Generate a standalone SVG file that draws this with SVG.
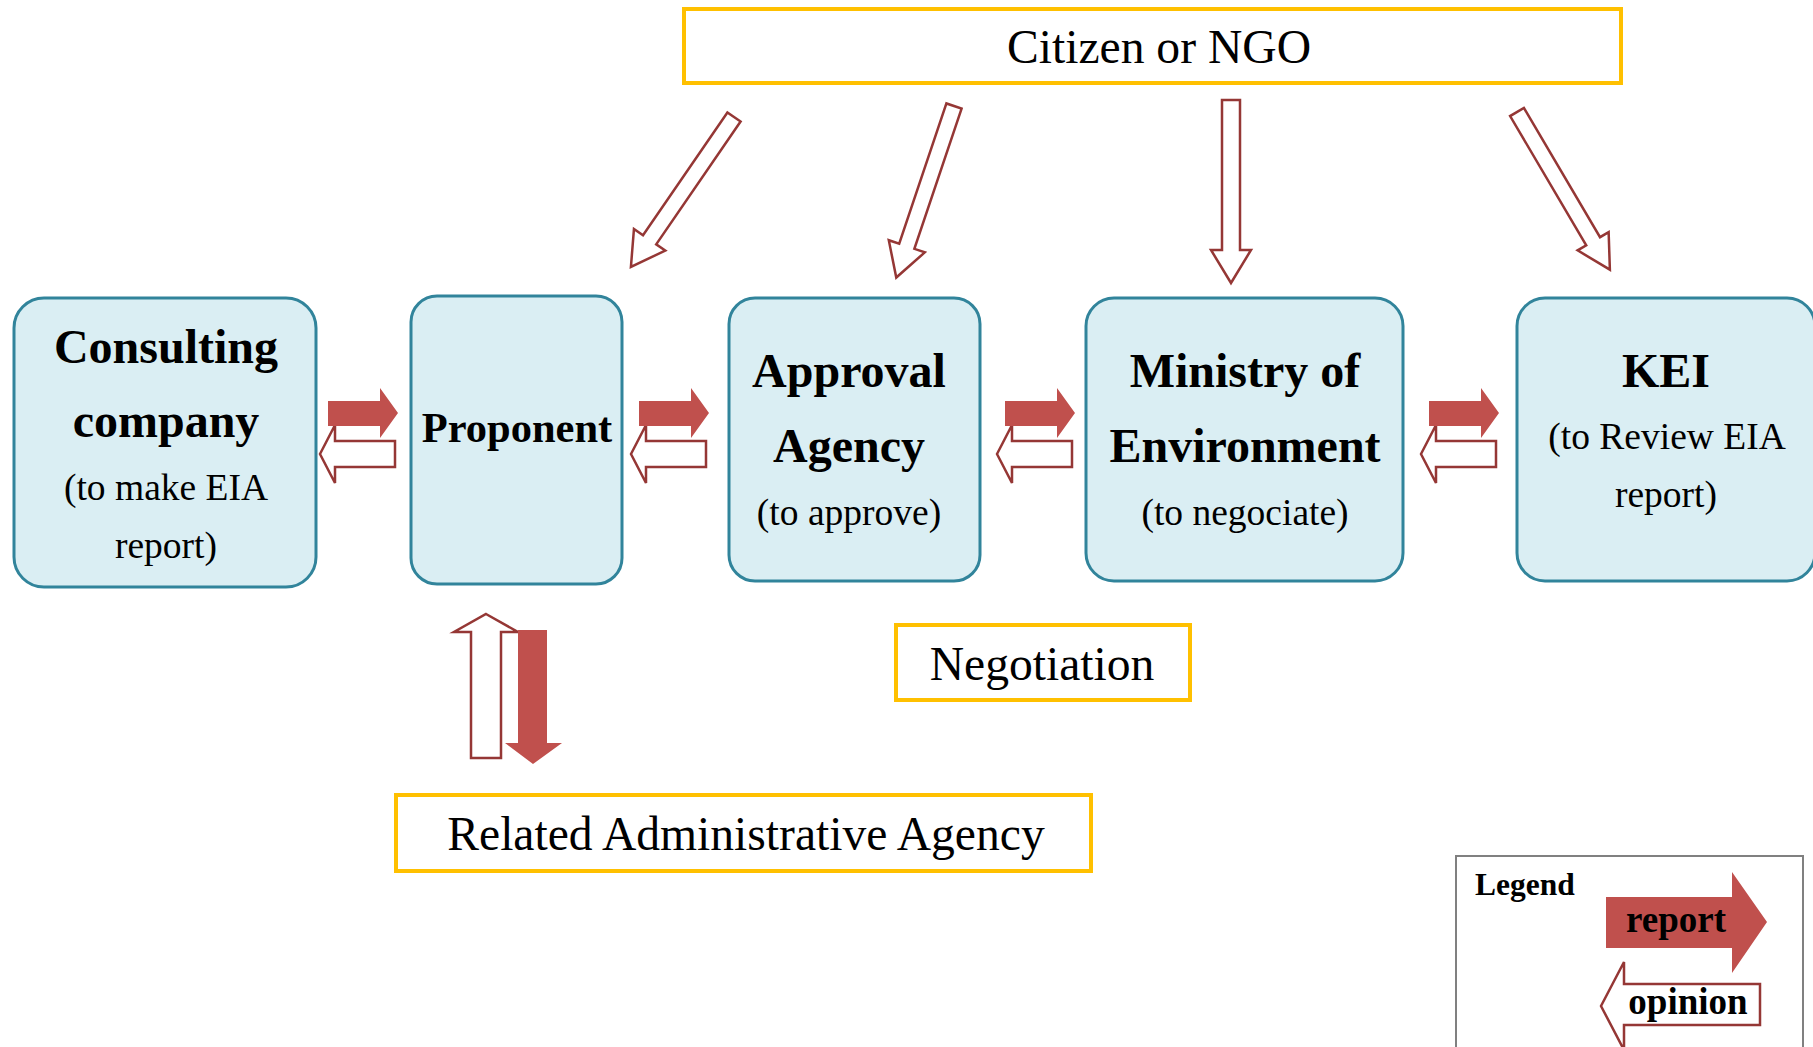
<svg xmlns="http://www.w3.org/2000/svg" width="1813" height="1047" viewBox="0 0 1813 1047">
  <style>
    .box { fill: #DAEEF3; stroke: #31849B; stroke-width: 3; }
    .ybox { fill: #FFFFFF; stroke: #FFC000; stroke-width: 4; }
    .title { font-family: "Liberation Serif", "Times New Roman", serif; font-weight: bold; font-size: 48px; fill: #000; text-anchor: middle; }
    .sub { font-family: "Liberation Serif", "Times New Roman", serif; font-size: 37.5px; fill: #000; text-anchor: middle; }
    .label { font-family: "Liberation Serif", "Times New Roman", serif; font-size: 47.6px; fill: #000; text-anchor: middle; }
    .report { fill: #C0504D; stroke: none; }
    .opinion { fill: #FFFFFF; stroke: #953735; stroke-width: 2.5; stroke-linejoin: miter; }
    .leg { font-family: "Liberation Serif", "Times New Roman", serif; font-weight: bold; fill: #000; }
  </style>
  <rect width="1813" height="1047" fill="#FFFFFF"/>

  <!-- connectors -->
  <g id="connectors">
    <!-- Citizen or NGO to the agencies (hollow opinion arrows, drawn along +x then rotated) -->
    <polygon class="opinion" points="0,-8 149,-8 149,-19 182,0 149,19 149,8 0,8" transform="translate(734,117) rotate(124.5)"/>
    <polygon class="opinion" points="0,-8 148,-8 148,-19 181,0 148,19 148,8 0,8" transform="translate(954,106) rotate(108.6)"/>
    <polygon class="opinion" points="1222,100 1240,100 1240,250 1251,250 1231,283 1211,250 1222,250"/>
    <polygon class="opinion" points="0,-8 150,-8 150,-18 183,0 150,18 150,8 0,8" transform="translate(1517,112) rotate(59.5)"/>

    <!-- Consulting company <-> Proponent -->
    <polygon class="opinion" points="320,454 335,425 335,441 395,441 395,467 335,467 335,483"/>
    <polygon class="report" points="328,401 380,401 380,388 398,413 380,438 380,426 328,426"/>
    <!-- Proponent <-> Approval Agency -->
    <polygon class="opinion" points="631,454 646,425 646,441 706,441 706,467 646,467 646,483"/>
    <polygon class="report" points="639,401 691,401 691,388 709,413 691,438 691,426 639,426"/>
    <!-- Approval Agency <-> Ministry of Environment -->
    <polygon class="opinion" points="997,454 1012,425 1012,441 1072,441 1072,467 1012,467 1012,483"/>
    <polygon class="report" points="1005,401 1057,401 1057,388 1075,413 1057,438 1057,426 1005,426"/>
    <!-- Ministry of Environment <-> KEI -->
    <polygon class="opinion" points="1421,454 1436,425 1436,441 1496,441 1496,467 1436,467 1436,483"/>
    <polygon class="report" points="1429,401 1481,401 1481,388 1499,413 1481,438 1481,426 1429,426"/>

    <!-- Proponent <-> Related Administrative Agency -->
    <polygon class="opinion" points="486,614 518,632 501,632 501,758 471,758 471,632 454,632"/>
    <polygon class="report" points="518,630 547,630 547,743 562,743 533,764 505,743 518,743"/>
  </g>

  <!-- nodes -->
  <g id="citizen">
    <rect class="ybox" x="684" y="9" width="937" height="74"/>
    <text class="label" x="1159" y="63">Citizen or NGO</text>
  </g>

  <g id="consulting">
    <rect class="box" x="14" y="298" width="302" height="289" rx="30" ry="30"/>
    <text class="title" x="166" y="363">Consulting</text>
    <text class="title" x="166" y="437">company</text>
    <text class="sub" x="166" y="500">(to make EIA</text>
    <text class="sub" x="166" y="558">report)</text>
  </g>

  <g id="proponent">
    <rect class="box" x="411" y="296" width="211" height="288" rx="26" ry="26"/>
    <text class="title" x="517" y="442" style="font-size:42.5px">Proponent</text>
  </g>

  <g id="approval">
    <rect class="box" x="729" y="298" width="251" height="283" rx="26" ry="26"/>
    <text class="title" x="849" y="387">Approval</text>
    <text class="title" x="849" y="462">Agency</text>
    <text class="sub" x="849" y="525">(to approve)</text>
  </g>

  <g id="ministry">
    <rect class="box" x="1086" y="298" width="317" height="283" rx="28" ry="28"/>
    <text class="title" x="1245" y="387">Ministry of</text>
    <text class="title" x="1245" y="462">Environment</text>
    <text class="sub" x="1245" y="525">(to negociate)</text>
  </g>

  <g id="kei">
    <rect class="box" x="1517" y="298" width="298" height="283" rx="28" ry="28"/>
    <text class="title" x="1666" y="387">KEI</text>
    <text class="sub" x="1667" y="449">(to Review EIA</text>
    <text class="sub" x="1666" y="507">report)</text>
  </g>

  <g id="negotiation">
    <rect class="ybox" x="896" y="625" width="294" height="75"/>
    <text class="label" x="1042" y="680">Negotiation</text>
  </g>

  <g id="related">
    <rect class="ybox" x="396" y="795" width="695" height="76"/>
    <text class="label" x="746" y="850">Related Administrative Agency</text>
  </g>

  <g id="legend">
    <rect x="1456" y="856" width="347" height="260" fill="#FFFFFF" stroke="#808080" stroke-width="2"/>
    <text class="leg" x="1475" y="895" style="font-size:31.5px">Legend</text>
    <polygon class="report" points="1606,897 1732,897 1732,872 1767,922 1732,973 1732,948 1606,948"/>
    <text class="leg" x="1676" y="932" text-anchor="middle" style="font-size:37px">report</text>
    <polygon class="opinion" points="1601,1006 1624,962 1624,984 1760,984 1760,1025 1624,1025 1624,1050"/>
    <text class="leg" x="1688" y="1014" text-anchor="middle" style="font-size:37px">opinion</text>
  </g>
</svg>
